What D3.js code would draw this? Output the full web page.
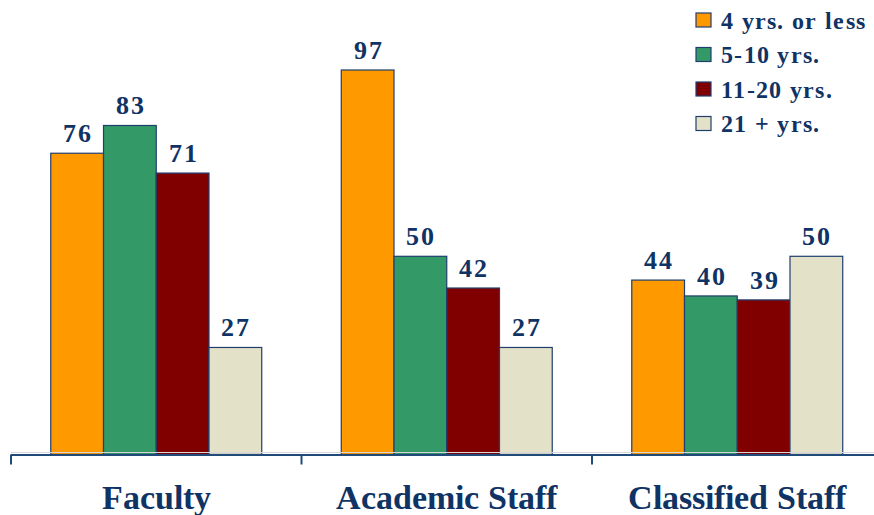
<!DOCTYPE html>
<html>
<head>
<meta charset="utf-8">
<script src="https://cdn.jsdelivr.net/npm/d3@7"></script>
<style>
  @font-face {
    font-family: 'ChartSerif';
    src: local('Liberation Serif Bold'), local('LiberationSerif-Bold');
    font-weight: bold;
  }
  body { margin: 0; background: #fff; }
</style>
</head>
<body>
<div id="chart"></div>
<script>
// data
const categories = ['Faculty', 'Academic Staff', 'Classified Staff'];
const seriesNames = ['4 yrs. or less', '5-10 yrs.', '11-20 yrs.', '21 + yrs.'];
const faculty = [76, 83, 71, 27];
const academicStaff = [97, 50, 42, 27];
const classifiedStaff = [44, 40, 39, 50];
const colors = ['#ff9900', '#339966', '#800000', '#e3e1c7'];

const values = [faculty, academicStaff, classifiedStaff];

const width = 874, height = 515;
const baseY = 454.5;
const textColor = '#0f3364';

const svg = d3.select('#chart').append('svg')
    .attr('width', width)
    .attr('height', height)
    .attr('font-family', "ChartSerif, 'Liberation Serif', 'Times New Roman', serif")
    .attr('font-weight', 'bold');

// scales
const x0 = d3.scaleBand()
    .domain(categories)
    .range([11, 882.5])
    .padding(0);

const x1 = d3.scaleBand()
    .domain(seriesNames)
    .range([0, x0.bandwidth()])
    .paddingInner(0)
    .paddingOuter(0.754);

const y = d3.scaleLinear()
    .domain([0, 100])
    .range([baseY, baseY - 396.4]);

// bars
const groups = svg.selectAll('.group')
    .data(categories)
    .enter().append('g')
    .attr('class', 'group')
    .attr('transform', d => `translate(${x0(d)},0)`);

groups.selectAll('rect')
    .data((d, i) => values[i].map((v, j) => ({name: seriesNames[j], value: v, color: colors[j]})))
    .enter().append('rect')
    .attr('x', d => x1(d.name))
    .attr('y', d => y(d.value))
    .attr('width', x1.bandwidth())
    .attr('height', d => y(0) - y(d.value))
    .style('fill', d => d.color)
    .style('stroke', '#1f3f6e')
    .style('stroke-width', 1.2);

groups.selectAll('.val')
    .data((d, i) => values[i].map((v, j) => ({name: seriesNames[j], value: v})))
    .enter().append('text')
    .attr('class', 'val')
    .attr('x', d => x1(d.name) + x1.bandwidth() / 2 + 1)
    .attr('y', d => y(d.value) - 11)
    .attr('text-anchor', 'middle')
    .attr('font-size', 26)
    .attr('letter-spacing', 2)
    .attr('fill', textColor)
    .text(d => d.value);

// axis
svg.append('line')
    .attr('x1', 11).attr('x2', width)
    .attr('y1', baseY - 2).attr('y2', baseY - 2)
    .style('stroke', '#d8d8d8')
    .style('stroke-width', 1);

svg.append('line')
    .attr('x1', 11).attr('x2', width)
    .attr('y1', baseY + 0.5).attr('y2', baseY + 0.5)
    .style('stroke', '#1f4a7a')
    .style('stroke-width', 2);

svg.selectAll('.tick-mark')
    .data(categories)
    .enter().append('line')
    .attr('class', 'tick-mark')
    .attr('x1', d => x0(d)).attr('x2', d => x0(d))
    .attr('y1', baseY).attr('y2', baseY + 10)
    .style('stroke', '#1f4a7a')
    .style('stroke-width', 2);

svg.selectAll('.cat')
    .data(categories)
    .enter().append('text')
    .attr('class', 'cat')
    .attr('x', d => x0(d) + x0.bandwidth() / 2)
    .attr('y', 509)
    .attr('text-anchor', 'middle')
    .attr('font-size', 33.5)
    .attr('fill', textColor)
    .text(d => d);

// legend
const legend = svg.selectAll('.legend')
    .data(seriesNames)
    .enter().append('g')
    .attr('class', 'legend')
    .attr('transform', (d, i) => `translate(696,${13 + i * 34.5})`);

legend.append('rect')
    .attr('width', 15)
    .attr('height', 14)
    .style('fill', (d, i) => colors[i])
    .style('stroke', '#1f3f6e')
    .style('stroke-width', 1.2);

legend.append('text')
    .attr('x', 25)
    .attr('y', 15.5)
    .attr('font-size', 24)
    .attr('letter-spacing', 1.3)
    .attr('fill', textColor)
    .text(d => d);
</script>
</body>
</html>
